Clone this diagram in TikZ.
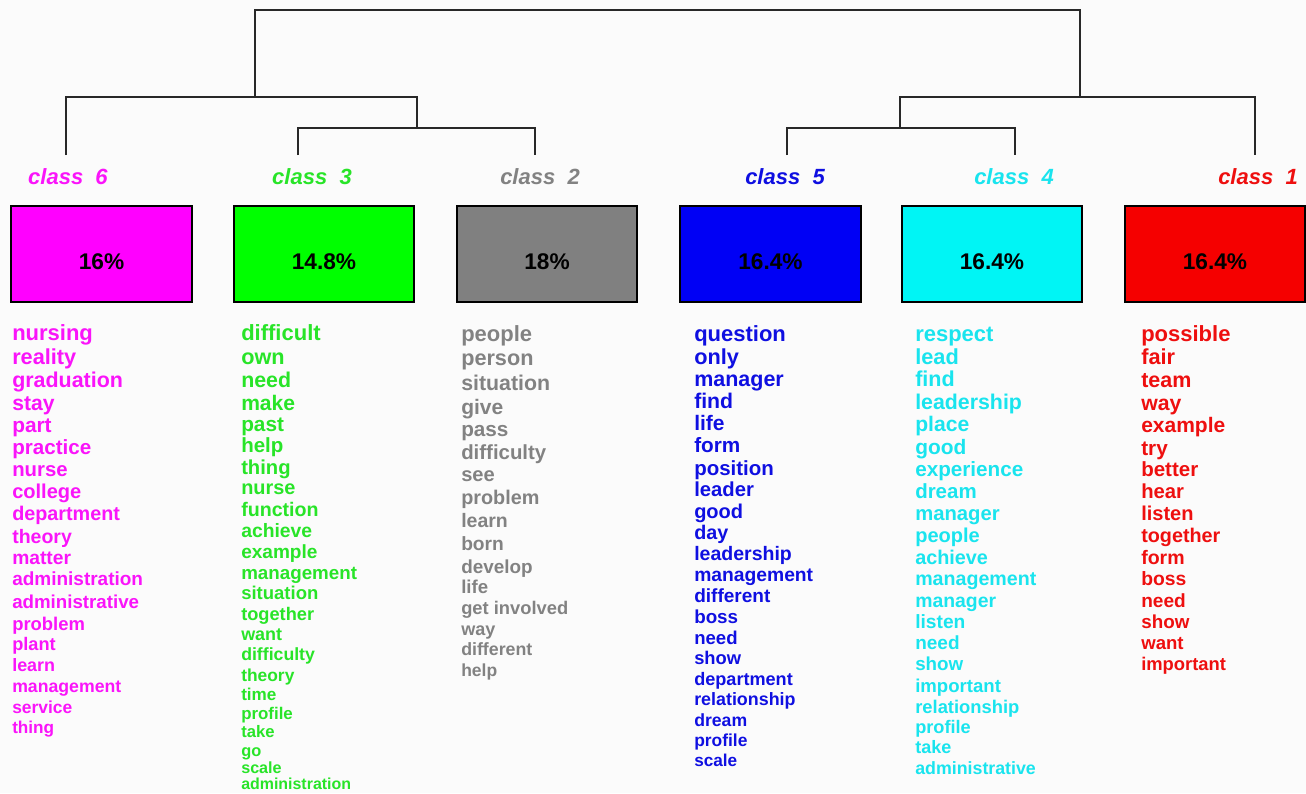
\documentclass[tikz,border=0pt]{standalone}
\usepackage{fontspec}
\setmainfont{Liberation Sans}
\definecolor{cmag}{RGB}{255,0,255}
\definecolor{tmag}{RGB}{250,20,250}
\definecolor{cgrn}{RGB}{0,255,0}
\definecolor{tgrn}{RGB}{40,228,40}
\definecolor{cgry}{RGB}{128,128,128}
\definecolor{tgry}{RGB}{130,130,130}
\definecolor{cblu}{RGB}{0,0,245}
\definecolor{tblu}{RGB}{15,15,225}
\definecolor{ccya}{RGB}{0,245,245}
\definecolor{tcya}{RGB}{25,228,238}
\definecolor{cred}{RGB}{245,0,0}
\definecolor{tred}{RGB}{238,15,15}
\definecolor{dline}{RGB}{40,40,40}
\definecolor{bgc}{RGB}{251,251,251}
\begin{document}
\begin{tikzpicture}[x=0.75pt,y=-0.75pt,
  dendro/.style={draw=dline,line width=1.5pt},
  pbox/.style={draw=black,line width=1.4pt,minimum width=135.5pt,minimum height=72pt,inner sep=0pt},
  pct/.style={font=\bfseries\fontsize{17}{17}\selectfont,inner sep=0pt},
  clab/.style={font=\bfseries\itshape\fontsize{16.5}{16.5}\selectfont,inner sep=0pt},
  word/.style={anchor=mid west,inner sep=0pt,yshift=-3pt}]
\fill[bgc] (0,0) rectangle (1306,793);
\useasboundingbox (0,0) rectangle (1306,793);
% dendrogram
\coordinate (t6) at (66,155);
\coordinate (t3) at (298,155);
\coordinate (t2) at (535,155);
\coordinate (t5) at (787,155);
\coordinate (t4) at (1015,155);
\coordinate (t1) at (1255,155);
\coordinate (j32) at (417,128);
\coordinate (j54) at (900,128);
\coordinate (jL) at (255,97);
\coordinate (jR) at (1080,97);
\coordinate (top) at (667,10);
\draw[dendro] (t3) |- (j32) -| (t2);
\draw[dendro] (t5) |- (j54) -| (t4);
\draw[dendro] (t6) |- (jL) -| (j32);
\draw[dendro] (j54) |- (jR) -| (t1);
\draw[dendro] (jL) |- (top) -| (jR);
% class labels
\node[clab,text=tmag] (l6) at (68,177) {class~~6};
\node[clab,text=tgrn] (l3) at (312,177) {class~~3};
\node[clab,text=tgry] (l2) at (540,177) {class~~2};
\node[clab,text=tblu] (l5) at (785,177) {class~~5};
\node[clab,text=tcya] (l4) at (1014,177) {class~~4};
\node[clab,text=tred] (l1) at (1258,177) {class~~1};
% boxes
\node[pbox,fill=cmag] (b6) at (101.5,254) {};
\node[pbox,fill=cgrn] (b3) at (324,254) {};
\node[pbox,fill=cgry] (b2) at (547,254) {};
\node[pbox,fill=cblu] (b5) at (770.5,254) {};
\node[pbox,fill=ccya] (b4) at (992,254) {};
\node[pbox,fill=cred] (b1) at (1215,254) {};
\node[pct] (p6) at (101.5,262) {16\%};
\node[pct] (p3) at (324,262) {14.8\%};
\node[pct] (p2) at (547,262) {18\%};
\node[pct] (p5) at (770.5,262) {16.4\%};
\node[pct] (p4) at (992,262) {16.4\%};
\node[pct] (p1) at (1215,262) {16.4\%};
% word lists
\foreach \w/\y [count=\i] in {nursing/333, reality/357, graduation/380, stay/403, part/425, practice/447, nurse/469, college/491, department/513, theory/536, matter/557, administration/578, administrative/601, problem/623, plant/643, learn/664, management/685, service/706, thing/726}{
  \pgfmathsetmacro\fs{0.75*(22-0.0123*(\y-333))}
  \node[word,text=tmag,font=\bfseries\fontsize{\fs}{\fs}\selectfont] (m\i) at (12,\y) {\w};
}
\foreach \w/\y [count=\i] in {difficult/333, own/357, need/380, make/403, past/424, help/445, thing/467, nurse/487, function/509, achieve/530, example/551, management/572, situation/592, together/613, want/633, difficulty/653, theory/674, time/693, profile/712, take/730, go/749, scale/766, administration/782}{
  \pgfmathsetmacro\fs{0.75*(22-0.0135*(\y-333))}
  \node[word,text=tgrn,font=\bfseries\fontsize{\fs}{\fs}\selectfont] (g\i) at (241,\y) {\w};
}
\foreach \w/\y [count=\i] in {people/334, person/358, situation/383, give/407, pass/429, difficulty/452, see/474, problem/497, learn/520, born/543, develop/566, life/586, get involved/607, way/628, different/648, help/669}{
  \pgfmathsetmacro\fs{0.75*(22-0.0134*(\y-333))}
  \node[word,text=tgry,font=\bfseries\fontsize{\fs}{\fs}\selectfont] (y\i) at (461,\y) {\w};
}
\foreach \w/\y [count=\i] in {question/334, only/357, manager/379, find/401, life/423, form/445, position/468, leader/489, good/511, day/532, leadership/553, management/574, different/595, boss/616, need/637, show/657, department/678, relationship/698, dream/719, profile/739, scale/759}{
  \pgfmathsetmacro\fs{0.75*(22-0.0113*(\y-333))}
  \node[word,text=tblu,font=\bfseries\fontsize{\fs}{\fs}\selectfont] (u\i) at (694,\y) {\w};
}
\foreach \w/\y [count=\i] in {respect/334, lead/357, find/379, leadership/402, place/424, good/447, experience/469, dream/491, manager/513, people/535, achieve/557, management/578, manager/600, listen/621, need/642, show/663, important/685, relationship/706, profile/726, take/746, administrative/767}{
  \pgfmathsetmacro\fs{0.75*(22-0.0097*(\y-333))}
  \node[word,text=tcya,font=\bfseries\fontsize{\fs}{\fs}\selectfont] (c\i) at (915,\y) {\w};
}
\foreach \w/\y [count=\i] in {possible/334, fair/357, team/380, way/403, example/425, try/448, better/469, hear/491, listen/513, together/535, form/557, boss/578, need/600, show/621, want/642, important/663}{
  \pgfmathsetmacro\fs{0.75*(22-0.011*(\y-333))}
  \node[word,text=tred,font=\bfseries\fontsize{\fs}{\fs}\selectfont] (r\i) at (1141,\y) {\w};
}
\end{tikzpicture}
\end{document}
